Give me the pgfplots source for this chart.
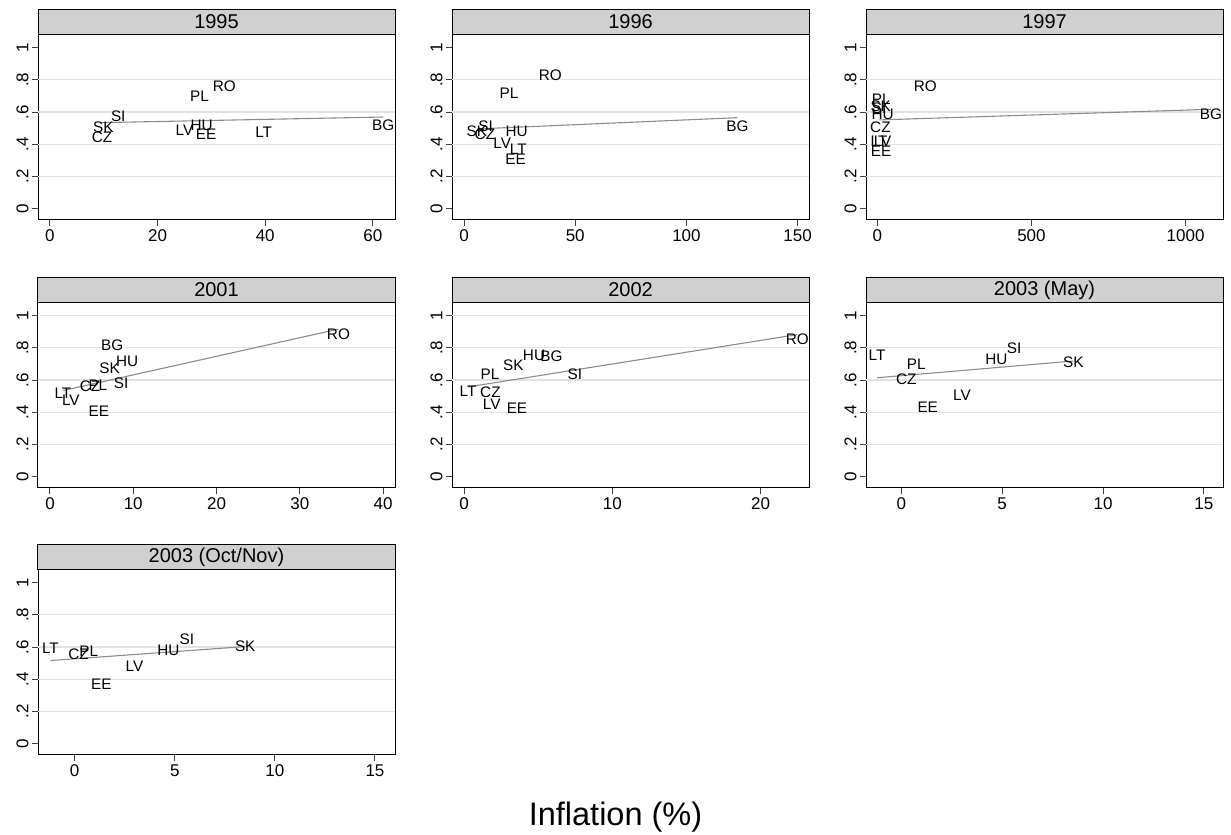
\documentclass[border=0pt]{standalone}
\usepackage{pgfplots}
\pgfplotsset{compat=1.18}
\usepackage{fontspec}
\setmainfont{Liberation Sans}
\newcommand\fs[1]{\fontsize{#1bp}{#1bp}\selectfont}
\definecolor{stripgray}{RGB}{208,208,208}
\definecolor{gridgray}{RGB}{226,226,226}
\definecolor{fitgray}{RGB}{140,140,140}

\pgfplotsset{
  panel/.style={
    scale only axis, width=357bp, height=185bp, anchor=south west,
    clip=false,
    ymin=-0.07, ymax=1.078,
    ytick={0,0.2,0.4,0.6,0.8,1},
    yticklabels={0,.2,.4,.6,.8,1},
    tick align=outside, xtick pos=left, ytick pos=left,
    major tick length=6bp,
    every tick/.style={black!75, line width=1bp},
    axis line style={line width=1bp},
    tick label style={font=\fs{17}},
    /pgf/number format/assume math mode=true,
    /pgf/number format/set thousands separator={},
    yticklabel style={rotate=90, anchor=south},
    extra y ticks={0.2,0.4,0.6,0.8},
    extra y tick labels={},
    extra y tick style={grid=major, major tick length=0pt},
    grid style={gridgray, line width=1.3bp},
    every axis title shift=0pt,
    title style={at={(rel axis cs:0.5,1)}, anchor=south, yshift=0pt,
      draw=black, line width=1bp, fill=stripgray, minimum width=357bp,
      minimum height=25bp, inner sep=0pt, font=\fs{20}},
  },
  lbl/.style={only marks, mark=*, mark size=0pt,
    mark options={draw=none, fill=none},
    nodes near coords, point meta=explicit symbolic,
    every node near coord/.append style={anchor=center, inner sep=0pt,
      font=\fs{15.3}, text=black}},
  fit/.style={fitgray, line width=1.1bp, mark=none},
}

\begin{document}
\begin{tikzpicture}
\useasboundingbox (0,0) rectangle (1231bp,835bp);

% ---------- 1995 ----------
\begin{axis}[panel, at={(38bp,615bp)}, title={1995},
  xmin=-2.2, xmax=64.1, xtick={0,20,40,60}]
\addplot[fit] coordinates {(9.5,0.534) (61.9,0.569)};
\addplot[lbl] table[meta=lab] {
x y lab
32.4 0.762 RO
27.8 0.700 PL
12.7 0.571 SI
9.95 0.507 SK
9.7 0.445 CZ
25.0 0.489 LV
28.2 0.520 HU
29.0 0.462 EE
39.7 0.476 LT
61.9 0.518 BG
};
\end{axis}

% ---------- 1996 ----------
\begin{axis}[panel, at={(452bp,615bp)}, title={1996},
  xmin=-5.4, xmax=155.1, xtick={0,50,100,150}]
\addplot[fit] coordinates {(5.8,0.495) (122.9,0.565)};
\addplot[lbl] table[meta=lab] {
x y lab
38.8 0.828 RO
20.2 0.716 PL
122.9 0.513 BG
23.7 0.480 HU
17.2 0.404 LV
24.4 0.369 LT
23.2 0.306 EE
5.8 0.478 SK
9.7 0.513 SI
9.4 0.462 CZ
};
\end{axis}

% ---------- 1997 ----------
\begin{axis}[panel, at={(866bp,615bp)}, title={1997},
  xmin=-36.7, xmax=1121.3, xtick={0,500,1000}]
\addplot[fit] coordinates {(6,0.551) (1082,0.617)};
\addplot[lbl] table[meta=lab] {
x y lab
155.7 0.758 RO
1082 0.586 BG
13 0.679 PL
11 0.635 SK
6 0.625 SI
17 0.586 HU
10 0.503 CZ
5.4 0.420 LT
17 0.420 LV
12 0.358 EE
};
\end{axis}

% ---------- 2001 ----------
\begin{axis}[panel, at={(38bp,347bp)}, title={2001},
  xmin=-1.44, xmax=41.44, xtick={0,10,20,30,40},
  extra y ticks={0.2,0.4,0.6,0.8,1}]
\addplot[fit] coordinates {(1.6,0.535) (34.65,0.916)};
\addplot[lbl] table[meta=lab] {
x y lab
34.65 0.882 RO
7.47 0.814 BG
9.26 0.715 HU
7.15 0.674 SK
8.54 0.581 SI
5.75 0.567 PL
4.8 0.561 CZ
1.56 0.515 LT
2.5 0.474 LV
5.87 0.406 EE
};
\end{axis}

% ---------- 2002 ----------
\begin{axis}[panel, at={(452bp,347bp)}, title={2002},
  xmin=-0.81, xmax=23.26, xtick={0,10,20},
  extra y ticks={0.2,0.4,0.6,0.8,1}]
\addplot[fit] coordinates {(0.27,0.557) (22.47,0.882)};
\addplot[lbl] table[meta=lab] {
x y lab
22.47 0.852 RO
4.72 0.753 HU
5.89 0.746 BG
3.33 0.691 SK
7.48 0.635 SI
1.75 0.635 PL
0.27 0.530 LT
1.78 0.526 CZ
1.87 0.449 LV
3.57 0.427 EE
};
\end{axis}

% ---------- 2003 (May) ----------
\begin{axis}[panel, at={(866bp,347bp)}, title={2003 (May)},
  xmin=-1.75, xmax=15.95, xtick={0,5,10,15}]
\addplot[fit] coordinates {(-1.2,0.614) (8.53,0.718)};
\addplot[lbl] table[meta=lab] {
x y lab
-1.2 0.753 LT
0.74 0.701 PL
0.25 0.604 CZ
4.71 0.728 HU
5.59 0.798 SI
8.53 0.711 SK
3.01 0.505 LV
1.31 0.433 EE
};
\end{axis}

% ---------- 2003 (Oct/Nov) ----------
\begin{axis}[panel, at={(38bp,80bp)}, title={2003 (Oct/Nov)},
  xmin=-1.83, xmax=16.0, xtick={0,5,10,15}]
\addplot[fit] coordinates {(-1.21,0.516) (8.52,0.603)};
\addplot[lbl] table[meta=lab] {
x y lab
-1.21 0.595 LT
0.2 0.557 CZ
0.7 0.572 PL
4.68 0.578 HU
5.61 0.651 SI
8.52 0.603 SK
2.99 0.480 LV
1.33 0.366 EE
};
\end{axis}

\node[anchor=base, font=\fs{32.5}] at (615.5bp,10bp) {Inflation (\%)};
\end{tikzpicture}
\end{document}
